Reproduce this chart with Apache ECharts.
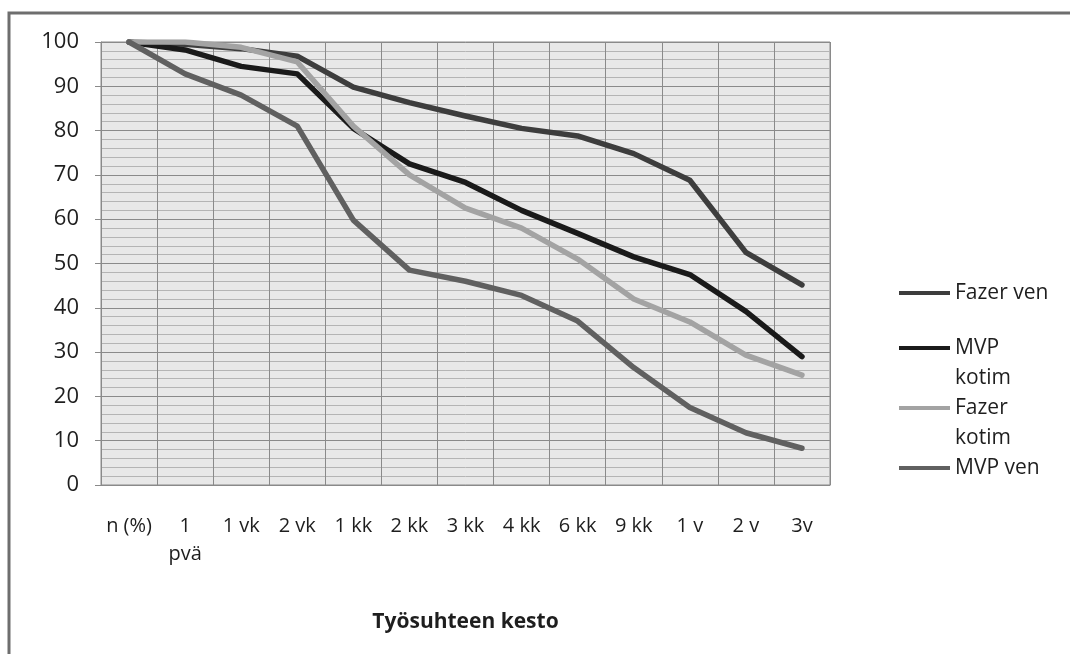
<!DOCTYPE html>
<html>
<head>
<meta charset="utf-8">
<script src="https://cdn.jsdelivr.net/npm/echarts@6/dist/echarts.min.js"></script>
<style>
  html, body { margin: 0; padding: 0; background: #fff; }
  #chart { width: 1070px; height: 654px; }
</style>
</head>
<body>
<div id="chart"></div>
<script>
// Employment duration categories (x axis)
const categories = ['n (%)', '1\npvä', '1 vk', '2 vk', '1 kk', '2 kk', '3 kk', '4 kk', '6 kk', '9 kk', '1 v', '2 v', '3v'];

// Share still employed (%) per group
const fazerVen   = [100, 99.5, 98.5, 96.8, 89.8, 86.3, 83.3, 80.5, 78.8, 74.8, 68.8, 52.5, 45.2];
const mvpKotim   = [100, 98.2, 94.5, 92.8, 80.5, 72.5, 68.3, 62.0, 56.8, 51.5, 47.5, 39.2, 29.0];
const fazerKotim = [100, 100, 98.8, 95.5, 81.0, 70.0, 62.5, 58.0, 51.0, 42.0, 36.8, 29.3, 24.8];
const mvpVen     = [100, 92.8, 88.0, 81.0, 59.8, 48.5, 46.0, 42.8, 37.0, 26.5, 17.5, 11.8, 8.3];

const seriesNames = ['Fazer ven', 'MVP kotim', 'Fazer kotim', 'MVP ven'];
const legendLabels = ['Fazer ven', 'MVP\nkotim', 'Fazer\nkotim', 'MVP ven'];
const seriesData = [fazerVen, mvpKotim, fazerKotim, mvpVen];
const colors = ['#3d3d3d', '#1a1a1a', '#a3a3a3', '#606060'];

const FONT = '"Open Sans", sans-serif';
const textColor = '#1e1e1e';

// one legend block per entry so each sits at its own height;
// wrapped labels get a blank first line so the swatch lines up with the first text line
const legendTops = [278, 303, 363, 453];
const legends = seriesNames.map((name, i) => {
  const label = legendLabels[i];
  const text = label.indexOf('\n') >= 0 ? ' \n' + label : label;
  return {
    left: 899,
    top: legendTops[i],
    orient: 'vertical',
    padding: 0,
    itemWidth: 51,
    itemHeight: 4,
    itemGap: 0,
    selectedMode: false,
    data: [{ name: name, icon: 'rect' }],
    formatter: () => text,
    textStyle: {
      fontFamily: FONT,
      fontSize: 21,
      color: textColor,
      lineHeight: 30
    }
  };
});

const chart = echarts.init(document.getElementById('chart'), null, { renderer: 'canvas' });

chart.setOption({
  backgroundColor: '#ffffff',
  animation: false,
  graphic: [{
    type: 'rect',
    shape: { x: 9, y: 13, width: 1300, height: 900 },
    style: { fill: 'none', stroke: '#6e6e6e', lineWidth: 3 },
    silent: true,
    z: 100
  }],
  legend: legends,
  grid: {
    left: 101,
    right: 240,
    top: 42,
    bottom: 169,
    show: true,
    backgroundColor: '#e8e8e8',
    borderColor: '#8a8a8a',
    borderWidth: 1
  },
  xAxis: {
    type: 'category',
    data: categories,
    boundaryGap: true,
    name: 'Työsuhteen kesto',
    nameLocation: 'middle',
    nameGap: 127,
    nameTextStyle: {
      fontFamily: FONT,
      fontSize: 21,
      fontWeight: 'bold',
      color: textColor
    },
    axisLine: { lineStyle: { color: '#8a8a8a', width: 1 } },
    axisTick: { show: false },
    axisLabel: {
      interval: 0,
      margin: 27,
      fontFamily: FONT,
      fontSize: 20,
      color: textColor,
      lineHeight: 28,
      align: 'center'
    },
    splitLine: {
      show: true,
      interval: 0,
      lineStyle: { color: '#8a8a8a', width: 1 }
    }
  },
  yAxis: {
    type: 'value',
    min: 0,
    max: 100,
    interval: 10,
    axisLine: { show: true, lineStyle: { color: '#8a8a8a', width: 1 } },
    axisTick: { show: true, length: 6, lineStyle: { color: '#8a8a8a' } },
    axisLabel: {
      margin: 22,
      fontFamily: FONT,
      fontSize: 22,
      color: textColor
    },
    splitLine: { show: true, lineStyle: { color: '#8a8a8a', width: 1 } },
    minorTick: { show: false, splitNumber: 5 },
    minorSplitLine: { show: true, lineStyle: { color: '#b4b4b4', width: 1 } }
  },
  series: seriesNames.map((name, i) => ({
    name: name,
    type: 'line',
    data: seriesData[i],
    symbol: 'none',
    color: colors[i],
    lineStyle: { width: 5.5, color: colors[i], cap: 'round', join: 'round' }
  }))
});
</script>
</body>
</html>
